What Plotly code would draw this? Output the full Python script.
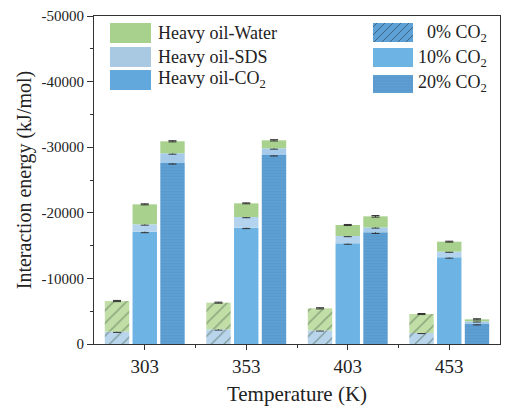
import plotly.graph_objects as go

# Temperatures (K) on the category axis
temps = ["303", "353", "403", "453"]
xpos = [0, 1, 2, 3]

# Interaction energy components (kJ/mol) for each CO2 content
sds_0 = [-1880, -2240, -2080, -1680]
water_0 = [-4670, -4060, -3360, -2890]

co2_10 = [-17120, -17730, -15340, -13210]
sds_10 = [-1120, -1630, -1120, -860]
water_10 = [-3050, -2080, -1680, -1530]

co2_20 = [-27590, -28810, -17030, -3050]
sds_20 = [-1480, -1020, -750, -400]
water_20 = [-1830, -1220, -1680, -310]

# Standard deviations (kJ/mol)
err_sds_0 = [110, 120, 100, 90]
err_water_0 = [90, 80, 90, 80]
err_co2_10 = [150, 140, 130, 120]
err_sds_10 = [120, 110, 100, 90]
err_water_10 = [80, 70, 80, 70]
err_co2_20 = [160, 150, 180, 140]
err_sds_20 = [130, 120, 110, 100]
err_water_20 = [90, 100, 120, 90]

y_ticks = [0, -10000, -20000, -30000, -40000, -50000]
y_labels = ["0", "-10000", "-20000", "-30000", "-40000", "-50000"]
y_minor = [-5000, -15000, -25000, -35000, -45000]

FONT = "Liberation Serif"
INK = "#222222"
AX = "#333333"

GREEN = "#a9d18e"
GREEN_0 = "#c0dea6"
SDS_C = "#b3d3ee"
SDS_0C = "#b9d5ec"
SDS_20C = "#a6cbea"
BLUE_10 = "#6db3e3"
BLUE_20 = "#5d9fd2"

hatch = dict(shape="/", size=9, solidity=0.14, fgcolor="#3f5a44", fillmode="overlay")
lines20 = dict(shape="-", size=3, solidity=0.3, fgcolor="#5592c6", fillmode="overlay")


def add_sum(a, b):
    return [p + q for p, q in zip(a, b)]


def segment(vals, base, group, color, err, pattern=None):
    return go.Bar(
        x=xpos, y=vals, base=base, offsetgroup=group,
        marker=dict(color=color, line=dict(width=0), pattern=pattern),
        error_y=dict(type="data", array=err, thickness=1, width=4, color=AX),
        showlegend=False,
    )


fig = go.Figure()
zero = [0, 0, 0, 0]

# 0% CO2: SDS + water, hatched
fig.add_trace(segment(sds_0, zero, "g0", SDS_0C, err_sds_0, hatch))
fig.add_trace(segment(water_0, sds_0, "g0", GREEN_0, err_water_0, hatch))

# 10% CO2
fig.add_trace(segment(co2_10, zero, "g10", BLUE_10, err_co2_10))
fig.add_trace(segment(sds_10, co2_10, "g10", SDS_C, err_sds_10))
fig.add_trace(segment(water_10, add_sum(co2_10, sds_10), "g10", GREEN, err_water_10))

# 20% CO2
fig.add_trace(segment(co2_20, zero, "g20", BLUE_20, err_co2_20, lines20))
fig.add_trace(segment(sds_20, co2_20, "g20", SDS_20C, err_sds_20))
fig.add_trace(segment(water_20, add_sum(co2_20, sds_20), "g20", GREEN, err_water_20))

# Plot-area geometry in pixels, used to place the two legend boxes
W, H = 506, 410
PL, PR, PT, PB = 94, 500, 16, 344


def px(x):
    return (x - PL) / (PR - PL)


def py(y):
    return (PB - y) / (PB - PT)


shapes = []
annotations = []


def swatch(x0, y0, x1, y1, color):
    shapes.append(dict(type="rect", xref="paper", yref="paper",
                       x0=px(x0), x1=px(x1), y0=py(y1), y1=py(y0),
                       fillcolor=color, line=dict(width=0), layer="above"))


def hatch_lines(x0, y0, x1, y1, step, color):
    w, h = x1 - x0, y1 - y0
    c = -h + step / 2
    while c < w:
        sx, sy = c, 0.0
        ex, ey = c + h, h
        if sx < 0:
            sy, sx = -sx, 0.0
        if ex > w:
            ey, ex = h - (ex - w), w
        shapes.append(dict(type="line", xref="paper", yref="paper",
                           x0=px(x0 + sx), y0=py(y1 - sy),
                           x1=px(x0 + ex), y1=py(y1 - ey),
                           line=dict(color=color, width=0.8), layer="above"))
        c += step


def h_lines(x0, y0, x1, y1, step, color):
    y = y0 + step
    while y < y1:
        shapes.append(dict(type="line", xref="paper", yref="paper",
                           x0=px(x0), y0=py(y), x1=px(x1), y1=py(y),
                           line=dict(color=color, width=0.6), layer="above"))
        y += step


def label(x, y, text, anchor):
    annotations.append(dict(xref="paper", yref="paper", x=px(x), y=py(y),
                            text=text, showarrow=False, xanchor=anchor,
                            yanchor="middle",
                            font=dict(family=FONT, size=18, color=INK)))


# Component legend
left_items = [("Heavy oil-Water", GREEN, 23, 43),
              ("Heavy oil-SDS", "#a9c9e2", 47, 67),
              ("Heavy oil-CO<sub>2</sub>", "#62a8dc", 70, 90)]
for text, color, y0, y1 in left_items:
    swatch(110, y0, 151, y1, color)
    label(156, (y0 + y1) / 2, text, "left")

# CO2 content legend
swatch(373, 23, 413, 42, "#5ea1d6")
hatch_lines(373, 23, 413, 42, 8, "#34536c")
label(489, 33, "0% CO<sub>2</sub>", "right")
swatch(373, 48, 413, 67, BLUE_10)
label(489, 58, "10% CO<sub>2</sub>", "right")
swatch(373, 75, 413, 93, BLUE_20)
h_lines(373, 75, 413, 93, 3, "#5592c6")
label(489, 84, "20% CO<sub>2</sub>", "right")

fig.update_layout(
    width=W, height=H,
    margin=dict(l=PL, r=W - PR, t=PT, b=H - PB),
    barmode="group", bargap=0.18, bargroupgap=0.12,
    plot_bgcolor="white", paper_bgcolor="white",
    font=dict(family=FONT, color=INK),
    showlegend=False,
    shapes=shapes, annotations=annotations,
    xaxis=dict(
        range=[-0.5, 3.5], tickmode="array", tickvals=xpos, ticktext=temps,
        ticks="outside", ticklen=5, tickwidth=1, tickcolor=AX,
        minor=dict(tickmode="array", tickvals=[0.5, 1.5, 2.5], ticks="outside",
                   ticklen=3, tickwidth=1, tickcolor=AX),
        showline=True, linecolor=AX, linewidth=1, mirror=True,
        showgrid=False, zeroline=False,
        tickfont=dict(size=19, family=FONT, color=INK),
        title=dict(text="Temperature (K)", font=dict(size=21, family=FONT, color=INK),
                   standoff=10),
    ),
    yaxis=dict(
        range=[0, -50000], tickmode="array", tickvals=y_ticks, ticktext=y_labels,
        ticks="outside", ticklen=6, tickwidth=1, tickcolor=AX,
        minor=dict(tickmode="array", tickvals=y_minor, ticks="outside",
                   ticklen=3, tickwidth=1, tickcolor=AX),
        showline=True, linecolor=AX, linewidth=1, mirror=True,
        showgrid=False, zeroline=False,
        tickfont=dict(size=15, family=FONT, color=INK),
        title=dict(text="Interaction energy (kJ/mol)",
                   font=dict(size=20, family=FONT, color=INK), standoff=4),
    ),
)

fig.write_html("out.html")
